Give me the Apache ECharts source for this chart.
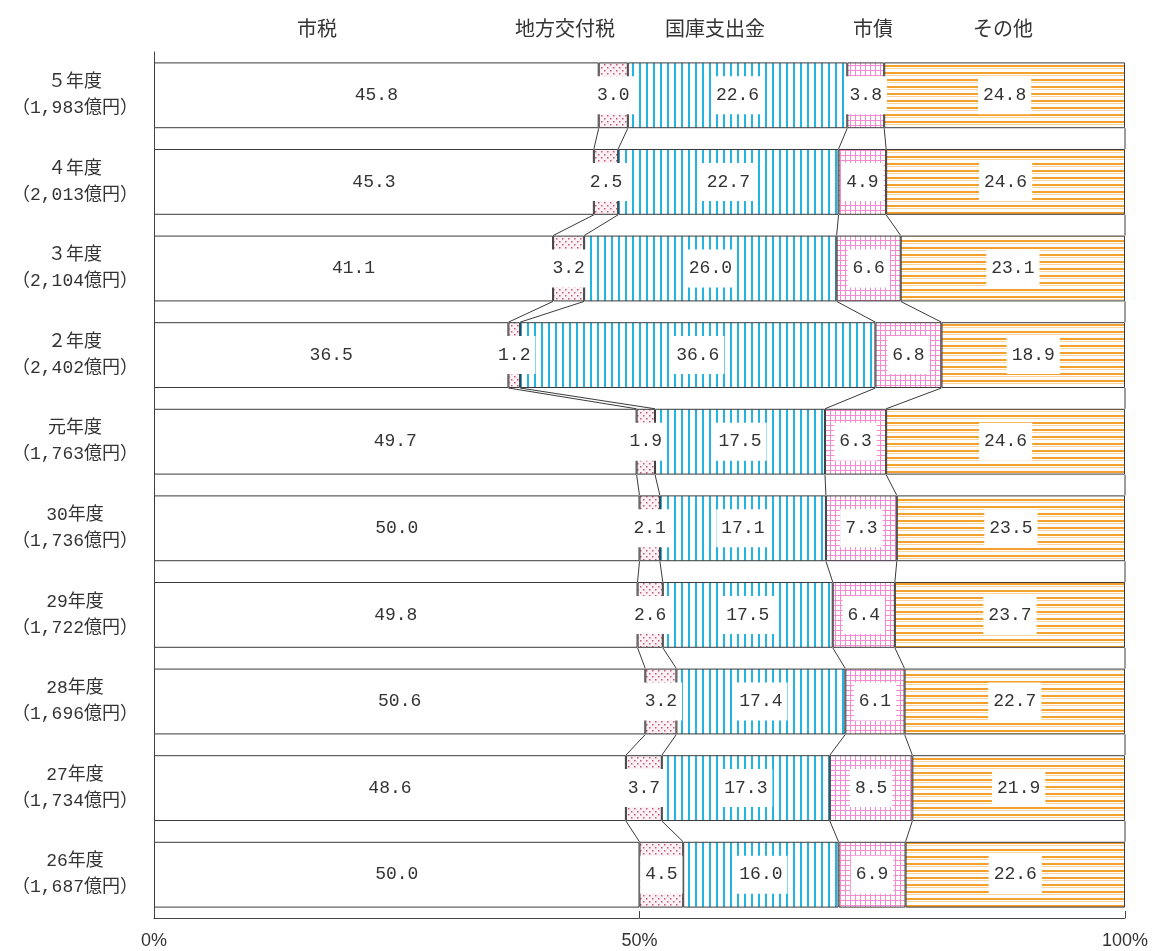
<!DOCTYPE html>
<html>
<head>
<meta charset="utf-8">
<script src="https://cdn.jsdelivr.net/npm/echarts@6/dist/echarts.min.js"></script>
<style>
  html, body { margin: 0; padding: 0; background: #fff; }
  #chart { width: 1152px; height: 951px; }
</style>
</head>
<body>
<div id="chart"></div>
<script>
// 歳入構成比（％）— 年度ごとの100%積み上げ横棒
const years = ['５年度', '４年度', '３年度', '２年度', '元年度', '30年度', '29年度', '28年度', '27年度', '26年度'];
const budgets = [1983, 2013, 2104, 2402, 1763, 1736, 1722, 1696, 1734, 1687]; // 億円
const seriesNames = ['市税', '地方交付税', '国庫支出金', '市債', 'その他'];

const shizei      = [45.8, 45.3, 41.1, 36.5, 49.7, 50.0, 49.8, 50.6, 48.6, 50.0];
const koufuzei    = [3.0, 2.5, 3.2, 1.2, 1.9, 2.1, 2.6, 3.2, 3.7, 4.5];
const kokko       = [22.6, 22.7, 26.0, 36.6, 17.5, 17.1, 17.5, 17.4, 17.3, 16.0];
const shisai      = [3.8, 4.9, 6.6, 6.8, 6.3, 7.3, 6.4, 6.1, 8.5, 6.9];
const sonota      = [24.8, 24.6, 23.1, 18.9, 24.6, 23.5, 23.7, 22.7, 21.9, 22.6];
const xTicks = [0, 50, 100];

const allSeries = [shizei, koufuzei, kokko, shisai, sonota];

// ---- fill patterns ----
function makeTile(w, h, draw) {
  const c = document.createElement('canvas');
  c.width = w; c.height = h;
  const ctx = c.getContext('2d');
  ctx.fillStyle = '#ffffff';
  ctx.fillRect(0, 0, w, h);
  draw(ctx);
  return { image: c, repeat: 'repeat' };
}
const dotFill = makeTile(6, 6, ctx => {
  ctx.fillStyle = '#fbf0f3';
  ctx.fillRect(0, 0, 6, 6);
  ctx.fillStyle = '#c4587a';
  ctx.fillRect(1, 1, 1.5, 1.5);
  ctx.fillRect(4, 4, 1.5, 1.5);
});
const vLineFill = makeTile(7, 4, ctx => {
  ctx.fillStyle = '#22b5e4';
  ctx.fillRect(2, 0, 2, 4);
});
const gridFill = makeTile(5, 5, ctx => {
  ctx.fillStyle = '#f58ad0';
  ctx.fillRect(0, 0, 5, 1);
  ctx.fillRect(0, 0, 1, 5);
});
const hLineFill = makeTile(4, 7, ctx => {
  ctx.fillStyle = '#f4a02c';
  ctx.fillRect(0, 2, 4, 2);
  ctx.fillStyle = '#fbd59a';
  ctx.fillRect(0, 5, 4, 1);
});
const fills = ['#ffffff', dotFill, vLineFill, gridFill, hLineFill];

const numFont = "'Liberation Mono', 'DejaVu Sans Mono', monospace";
const jpFont = "'Noto Sans CJK JP', sans-serif";

const barSeries = seriesNames.map((name, s) => ({
  name,
  type: 'bar',
  stack: 'total',
  barWidth: '76%',
  data: allSeries[s],
  itemStyle: { color: fills[s], borderColor: '#3a3a3a', borderWidth: 1 },
  label: {
    show: true,
    position: 'inside',
    formatter: p => p.value.toFixed(1),
    fontFamily: numFont,
    fontSize: 18,
    color: '#333',
    backgroundColor: '#ffffff',
    padding: [10, 5]
  },
  emphasis: { disabled: true },
  z: 2
}));

// cumulative boundaries per year (after each series), plus the 100% edge
const cumBounds = years.map((_, i) => {
  let acc = 0;
  const out = [];
  for (let s = 0; s < 4; s++) { acc += allSeries[s][i]; out.push(Math.round(acc * 10) / 10); }
  out.push(100);
  return out;
});

// connector lines between consecutive bars
const connectorData = [];
for (let i = 0; i < years.length - 1; i++) {
  for (let k = 0; k < cumBounds[i].length; k++) {
    connectorData.push([cumBounds[i][k], i, cumBounds[i + 1][k]]);
  }
}

const connectors = {
  type: 'custom',
  silent: true,
  z: 1,
  data: connectorData,
  encode: { x: 0, y: 1 },
  renderItem: (params, api) => {
    const a = api.coord([api.value(0), api.value(1)]);
    const b = api.coord([api.value(2), api.value(1) + 1]);
    const half = api.size([0, 1])[1] * 0.38;
    return {
      type: 'line',
      shape: { x1: a[0], y1: a[1] + half, x2: b[0], y2: b[1] - half },
      style: { stroke: '#3a3a3a', lineWidth: 1 }
    };
  }
};

const headerX = [317, 565, 715, 873, 1003];

const option = {
  animation: false,
  backgroundColor: '#ffffff',
  grid: { left: 154, right: 27, top: 52, bottom: 33 },
  xAxis: {
    type: 'value',
    min: 0, max: 100, interval: 50,
    axisLine: { show: true, lineStyle: { color: '#444', width: 1 } },
    axisTick: { show: true, inside: true, length: 7, lineStyle: { color: '#444' } },
    splitLine: { show: false },
    axisLabel: {
      margin: 14,
      fontFamily: "'Liberation Sans Narrow', 'Liberation Sans', sans-serif",
      fontSize: 18,
      color: '#333',
      formatter: v => xTicks.includes(v) ? v + '%' : ''
    }
  },
  yAxis: {
    type: 'category',
    inverse: true,
    data: years,
    axisLine: { show: true, lineStyle: { color: '#444', width: 1 } },
    axisTick: { show: false },
    axisLabel: {
      margin: 79,
      align: 'center',
      fontFamily: "'Liberation Mono', 'Noto Sans CJK JP', sans-serif",
      fontSize: 18,
      lineHeight: 26,
      color: '#333',
      formatter: (v, i) => v + '\n（' + budgets[i].toLocaleString('en-US') + '億円）'
    }
  },
  graphic: seriesNames.map((n, s) => ({
    type: 'text',
    x: headerX[s],
    y: 28,
    style: {
      text: n,
      fontFamily: jpFont,
      fontSize: 20,
      fill: '#333',
      align: 'center',
      verticalAlign: 'middle'
    }
  })),
  series: [...barSeries, connectors]
};

const chart = echarts.init(document.getElementById('chart'), null, { renderer: 'canvas' });
chart.setOption(option);
</script>
</body>
</html>
